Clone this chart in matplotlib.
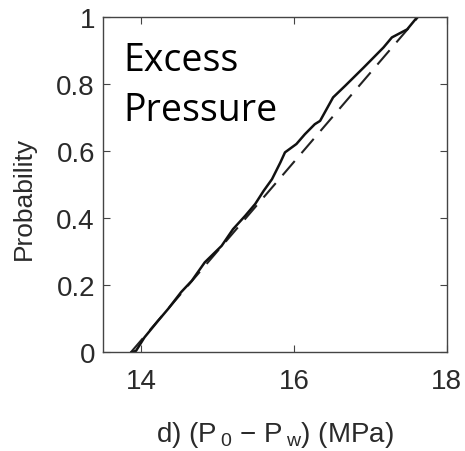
import matplotlib
matplotlib.use("Agg")
import matplotlib.pyplot as plt

# Empirical CDF (solid) of excess pressure (MPa)
emp_x = [13.87, 13.93, 14.04, 14.22, 14.35, 14.52, 14.66, 14.83, 15.05, 15.20,
         15.36, 15.49, 15.60, 15.71, 15.82, 15.88, 16.03, 16.14, 16.27, 16.34,
         16.51, 16.67, 16.91, 17.04, 17.17, 17.28, 17.48, 17.61]
emp_y = [0.000, 0.005, 0.045, 0.095, 0.130, 0.180, 0.214, 0.269, 0.318, 0.368,
         0.408, 0.443, 0.482, 0.517, 0.567, 0.597, 0.622, 0.651, 0.681, 0.691,
         0.761, 0.796, 0.850, 0.880, 0.910, 0.940, 0.964, 1.000]
# Fitted CDF (dashed)
fit_x = [13.86, 17.62]
fit_y = [0.0, 1.0]

x_ticks = [14, 16, 18]
y_ticks = [0, 0.2, 0.4, 0.6, 0.8, 1]
y_tick_labels = ["0", "0.2", "0.4", "0.6", "0.8", "1"]

plt.rcParams['font.family'] = ['Liberation Sans', 'DejaVu Sans']
plt.rcParams['mathtext.fontset'] = 'custom'
plt.rcParams['mathtext.rm'] = 'Liberation Sans'
plt.rcParams['mathtext.it'] = 'Liberation Sans'

fig = plt.figure(figsize=(4.65, 4.52), dpi=100)
ax = fig.add_axes([0.222, 0.218, 0.739, 0.7415])

ax.plot(fit_x, fit_y, color='#222222', lw=1.5, dashes=(9, 5))
ax.plot(emp_x, emp_y, color='#111111', lw=1.8)

ax.set_xlim(13.5, 18)
ax.set_ylim(0, 1)
ax.set_xticks(x_ticks)
ax.set_yticks(y_ticks)
ax.set_yticklabels(y_tick_labels)

txtc = '#2a2a2a'
ax.tick_params(direction='in', top=True, right=True, length=5, width=0.8,
               color='#444444', labelsize=20, labelcolor=txtc)
ax.tick_params(axis='x', pad=11)
ax.tick_params(axis='y', pad=6)
for s in ax.spines.values():
    s.set_color('#444444')
    s.set_linewidth(1.0)

ax.set_ylabel('Probability', fontsize=19, color=txtc)
ax.yaxis.set_label_coords(-0.196, 0.464)
ax.set_xlabel(r'd) (P$\,_{0}$ $-$ P$\,_{\mathrm{w}}$) (MPa)', fontsize=20, color=txtc, va='top')
ax.xaxis.set_label_coords(0.5, -0.2)

ax.text(0.058, 0.93, 'Excess\nPressure', transform=ax.transAxes, fontsize=27,
        family='Open Sans', color='black', va='top', ha='left', linespacing=1.42)

fig.savefig('out.png', dpi=100)
